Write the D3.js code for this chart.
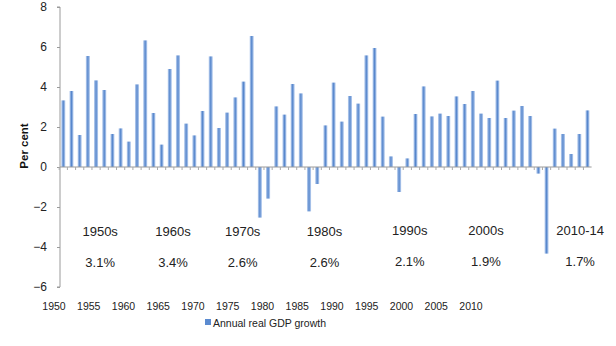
<!DOCTYPE html>
<html><head><meta charset="utf-8">
<script src="https://cdn.jsdelivr.net/npm/d3@7"></script>
<style>body{margin:0;background:#fff}svg{display:block}</style>
</head><body>
<svg id="c" width="616" height="346"></svg>
<script>
const years = d3.range(1950, 2015);
const growth = [3.33, 3.8, 1.6, 5.55, 4.33, 3.85, 1.65, 1.93, 1.27, 4.13,
  6.33, 2.7, 1.12, 4.9, 5.58, 2.17, 1.58, 2.8, 5.53, 1.95,
  2.72, 3.48, 4.27, 6.55, -2.53, -1.58, 3.03, 2.62, 4.15, 3.68,
  -2.22, -0.85, 2.08, 4.22, 2.27, 3.55, 3.17, 5.58, 5.95, 2.52,
  0.53, -1.25, 0.43, 2.65, 4.03, 2.53, 2.67, 2.55, 3.53, 3.15,
  3.8, 2.67, 2.45, 4.32, 2.45, 2.82, 3.05, 2.55, -0.33, -4.33,
  1.92, 1.65, 0.65, 1.65, 2.83];
const yTicks = [-6, -4, -2, 0, 2, 4, 6, 8];
const xLabels = [1950, 1955, 1960, 1965, 1970, 1975, 1980, 1985, 1990, 1995, 2000, 2005, 2010];
const decades = ["1950s", "1960s", "1970s", "1980s", "1990s", "2000s", "2010-14"];
const decadeAvg = ["3.1%", "3.4%", "2.6%", "2.6%", "2.1%", "1.9%", "1.7%"];
const decadeMid = [1954.5, 1963.4, 1971.9, 1981.9, 1992.3, 2001.6, 2013.1];
const seriesName = "Annual real GDP growth";

const svg = d3.select("#c");
const y = d3.scaleLinear().domain([-6, 8]).range([287, 7]);
const x = d3.scaleBand().domain(years).range([59.2, 591.6]).paddingInner(0.5).paddingOuter(0.25);
const xl = d3.scaleLinear().domain([1950, 2010]).range([54, 471]);
const xd = d3.scaleLinear().domain([1950, 2014]).range([63.3, 587.5]);

const defs = svg.append("defs");
const g1 = defs.append("linearGradient").attr("id", "bg").attr("x1", 0).attr("x2", 1).attr("y1", 0).attr("y2", 0);
g1.append("stop").attr("offset", "0%").attr("stop-color", "#c2d5f2");
g1.append("stop").attr("offset", "50%").attr("stop-color", "#5686cc");
g1.append("stop").attr("offset", "100%").attr("stop-color", "#c2d5f2");

// y axis
const ya = svg.append("g").attr("transform", "translate(60,0)")
  .call(d3.axisLeft(y).tickValues(yTicks).tickSize(3).tickPadding(10).tickFormat(d3.format("d")));
ya.select(".domain").attr("stroke", "#9a9a9a").attr("d", `M-3,${y(8)}H0V${y(-6)}H-3`);
ya.selectAll(".tick line").attr("stroke", "#9a9a9a");
ya.selectAll(".tick text").attr("font-family", "Liberation Sans, Arial, sans-serif").attr("font-size", 12).attr("fill", "#222");

// bars
svg.append("g").selectAll("rect").data(years).join("rect")
  .attr("x", d => x(d))
  .attr("width", x.bandwidth())
  .attr("y", (d, i) => y(Math.max(0, growth[i])))
  .attr("height", (d, i) => Math.abs(y(growth[i]) - y(0)))
  .attr("fill", "url(#bg)");

// zero axis with minor ticks
const za = svg.append("g").attr("transform", `translate(0,${y(0)})`);
za.append("line").attr("x1", 60).attr("x2", x.range()[1]).attr("stroke", "#9a9a9a");
za.selectAll("line.t").data(years).join("line").attr("class", "t")
  .attr("x1", d => x(d) - x.step() * 0.25).attr("x2", d => x(d) - x.step() * 0.25)
  .attr("y1", 0).attr("y2", 3).attr("stroke", "#aaa");

// x labels
svg.append("g").selectAll("text").data(xLabels).join("text")
  .attr("x", d => xl(d)).attr("y", 310).attr("text-anchor", "middle")
  .attr("font-family", "Liberation Sans, Arial, sans-serif").attr("font-size", 10.5).attr("fill", "#222")
  .text(d => d);

// decade annotations
const ann = svg.append("g").attr("font-family", "Liberation Sans, Arial, sans-serif").attr("font-size", 13).attr("fill", "#222").attr("text-anchor", "middle");
ann.selectAll("text.d").data(decades).join("text").attr("class", "d")
  .attr("x", (d, i) => xd(decadeMid[i])).attr("y", (d, i) => i >= 4 ? 235 : 236).text(d => d);
ann.selectAll("text.p").data(decadeAvg).join("text").attr("class", "p")
  .attr("x", (d, i) => xd(decadeMid[i])).attr("y", (d, i) => i >= 4 ? 266 : 267).text(d => d);

// y title
svg.append("text").attr("transform", "translate(28,146) rotate(-90)").attr("text-anchor", "middle")
  .attr("font-family", "Liberation Sans, Arial, sans-serif").attr("font-size", 11.5).attr("font-weight", "bold").attr("fill", "#111")
  .text("Per cent");

// legend
const lg = svg.append("g");
lg.append("rect").attr("x", 205).attr("y", 319).attr("width", 6).attr("height", 6).attr("fill", "#5b8bd0");
lg.append("text").attr("x", 213).attr("y", 327).attr("font-family", "Liberation Sans, Arial, sans-serif").attr("font-size", 10.5).attr("fill", "#222").text(seriesName);
</script>
</body></html>
